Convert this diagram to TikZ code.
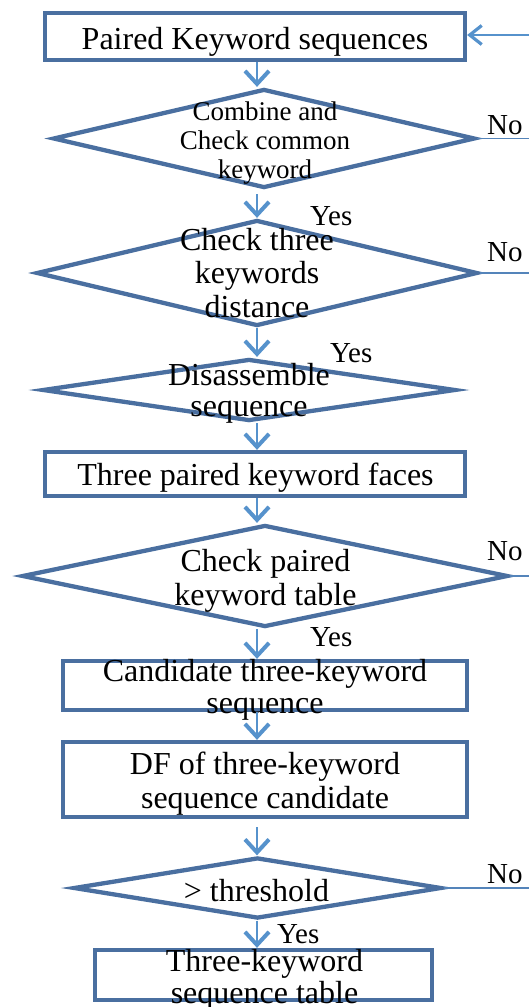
\documentclass[tikz,border=0pt]{standalone}
\usepackage{fontspec}
\setmainfont{Liberation Serif}
\usetikzlibrary{shapes.geometric,arrows.meta}
\definecolor{bord}{RGB}{74,111,160}
\definecolor{flow}{RGB}{86,146,204}
\definecolor{noline}{RGB}{84,132,186}
\begin{document}
\begin{tikzpicture}[x=1pt,y=-1pt,
  box/.style={draw=bord,line width=4.3pt,rectangle,inner sep=0pt},
  decision/.style={draw=bord,line width=4.3pt,diamond,inner sep=0pt},
  txt/.style={font=\fontsize{32}{33}\selectfont,align=center,inner sep=0pt,anchor=base},
  small/.style={font=\fontsize{27}{29}\selectfont,align=center,inner sep=0pt,anchor=base},
  lbl/.style={font=\fontsize{29}{30}\selectfont,inner sep=0pt,anchor=base west},
  flowarrow/.style={draw=flow,line width=2.5pt,-{Straight Barb[length=13pt,width=24pt,line width=4pt]}},
  backarrow/.style={draw=flow,line width=1.5pt,-{Straight Barb[length=12pt,width=19pt,line width=3.2pt]}},
  noline/.style={draw=noline,line width=1.5pt}]

\useasboundingbox (0,0) rectangle (529,1007);

% shapes of the flow
\node[box,minimum width=420,minimum height=47] (b1) at (255,36.5) {};
\node[decision,minimum width=422,minimum height=99] (d1) at (264,138.5) {};
\node[decision,minimum width=441,minimum height=106] (d2) at (257,273) {};
\node[decision,minimum width=413,minimum height=62] (d3) at (249,390) {};
\node[box,minimum width=420,minimum height=44] (b2) at (255,474) {};
\node[decision,minimum width=486,minimum height=102] (d4) at (265,576) {};
\node[box,minimum width=404,minimum height=49] (b3) at (265,685.5) {};
\node[box,minimum width=404,minimum height=75] (b4) at (265,779.5) {};
\node[decision,minimum width=368,minimum height=61] (d5) at (257.5,888) {};
\node[box,minimum width=337,minimum height=50] (b5) at (263.5,975) {};

% texts (base anchor sits on the last line)
\node[txt] (b1t) at (255,49) {Paired Keyword sequences};
\node[small] (d1t) at (265,178) {Combine and\\Check common\\keyword};
\node[txt,font=\fontsize{32}{33.3}\selectfont] (d2t) at (257,317) {Check three\\keywords\\distance};
\node[txt,font=\fontsize{32}{31}\selectfont] (d3t) at (249,416.5) {Disassemble\\sequence};
\node[txt] (b2t) at (255.5,485.5) {Three paired keyword faces};
\node[txt,font=\fontsize{32}{34}\selectfont] (d4t) at (265.5,605) {Check paired\\keyword table};
\node[txt,font=\fontsize{32}{32}\selectfont] (b3t) at (265,713) {Candidate three-keyword\\sequence};
\node[txt,font=\fontsize{32}{34}\selectfont] (b4t) at (265,808) {DF of three-keyword\\sequence candidate};
\node[txt] (d5t) at (256.5,901) {> threshold};
\node[txt,font=\fontsize{32}{32}\selectfont] (b5t) at (264.5,1003) {Three-keyword\\sequence table};

% branch labels
\node[lbl] (y1) at (310,225) {Yes};
\node[lbl] (y2) at (330,362) {Yes};
\node[lbl] (y3) at (310,646) {Yes};
\node[lbl] (y4) at (277,943.6) {Yes};
\node[lbl] (n1) at (487,134) {No};
\node[lbl] (n2) at (487,261) {No};
\node[lbl] (n3) at (487,560) {No};
\node[lbl] (n4) at (487,883) {No};

% main spine of arrows
\coordinate (spine) at (257,0);
\draw[flowarrow] (b1.south -| spine) -- (d1.north -| spine);
\draw[flowarrow,shorten <=4pt] (d1.south -| spine) -- (d2.north -| spine);
\draw[flowarrow] (d2.south -| spine) -- (d3.north -| spine);
\draw[flowarrow] (d3.south -| spine) -- (b2.north -| spine);
\draw[flowarrow] (b2.south -| spine) -- (d4.north -| spine);
\draw[flowarrow] (d4.south -| spine) -- (b3.north -| spine);
\draw[flowarrow] (b3.south -| spine) -- (b4.north -| spine);
\draw[flowarrow,shorten <=8pt] (b4.south -| spine) -- (d5.north -| spine);
\draw[flowarrow] (d5.south -| spine) -- (b5.north -| spine);

% "No" exits and the return into the first box
\coordinate (edge) at (530,0);
\coordinate (ret) at (530,35);
\draw[noline] (d1.east) -- (d1.east -| edge);
\draw[noline] (d2.east) -- (d2.east -| edge);
\draw[noline] (d4.east) -- (d4.east -| edge);
\draw[noline] (d5.east) -- (d5.east -| edge);
\draw[backarrow] (ret) -- (ret -| b1.east);
\end{tikzpicture}
\end{document}
